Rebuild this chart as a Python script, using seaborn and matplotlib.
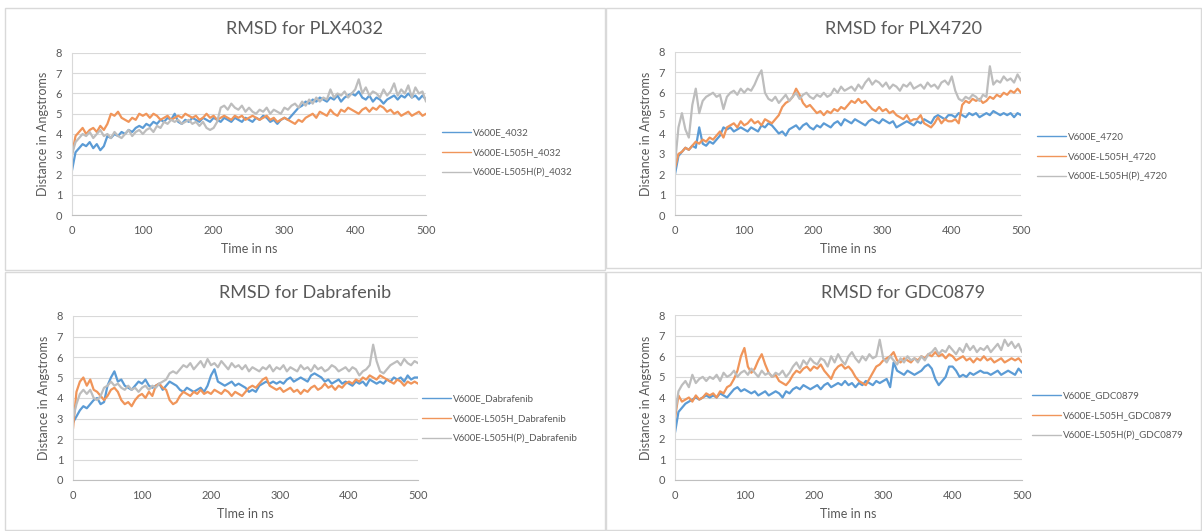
import numpy as np
import pandas as pd
import seaborn as sns
import matplotlib.pyplot as plt
from matplotlib.patches import Rectangle
from matplotlib.lines import Line2D

# RMSD traces (Angstrom), every 5 ns from 0 to 500 ns
plx4032_v600e = [
    2.2, 3.1, 3.3, 3.5, 3.4, 3.6, 3.3, 3.5, 3.2, 3.4,
    3.9, 3.8, 4.0, 3.9, 4.1, 4.0, 4.2, 4.1, 4.3, 4.4,
    4.3, 4.5, 4.4, 4.6, 4.5, 4.7, 4.6, 4.8, 4.7, 5.0,
    4.6, 4.5, 4.7, 4.6, 4.8, 4.7, 4.6, 4.8, 4.7, 4.6,
    4.8, 4.7, 4.6, 4.8, 4.7, 4.6, 4.8, 4.7, 4.6, 4.8,
    4.7, 4.6, 4.8, 4.7, 4.9, 4.8, 4.6, 4.7, 4.5, 4.7,
    4.8, 4.7, 4.9, 5.1, 5.3, 5.4, 5.6, 5.5, 5.7, 5.6,
    5.8, 5.7, 5.6, 5.8, 5.7, 5.9, 5.6, 5.8, 5.9, 6.0,
    5.9, 6.1, 5.8, 5.7, 5.9, 5.6, 5.8, 5.7, 5.5, 5.7,
    5.8, 5.9, 5.7, 5.9, 5.8, 6.0, 5.8, 5.9, 5.7, 5.9,
    5.7]
plx4032_l505h = [
    3.0, 3.9, 4.1, 4.3, 4.0, 4.2, 4.3, 4.1, 4.4, 4.2,
    4.5, 5.0, 4.9, 5.1, 4.8, 4.7, 4.6, 4.8, 4.7, 5.0,
    4.9, 5.0, 4.8, 5.0, 4.9, 4.7, 4.8, 4.9, 4.7, 4.8,
    4.9, 4.8, 5.0, 4.9, 4.8, 4.9, 4.7, 4.8, 5.0, 4.8,
    4.9, 4.7, 4.8, 4.9, 4.8, 4.7, 4.9, 4.8, 4.9, 4.7,
    4.8, 4.9, 4.8, 4.7, 4.8, 4.9, 4.7, 4.8, 4.6, 4.7,
    4.8, 4.7, 4.6, 4.5, 4.7, 4.6, 4.8, 4.9, 5.0, 4.8,
    5.1, 5.0, 4.9, 5.2, 5.0, 4.9, 5.2, 5.1, 5.3, 5.2,
    5.1, 5.0, 5.2, 5.3, 5.1, 5.3, 5.2, 5.4, 5.3, 5.1,
    5.2, 5.0, 5.1, 4.9, 5.0, 5.1, 4.9, 5.0, 5.1, 4.9,
    5.0]
plx4032_l505hp = [
    3.0, 3.6, 3.8, 4.0, 3.9, 4.1, 3.8, 4.0, 4.2, 3.9,
    4.0, 3.8, 4.1, 3.9, 3.8, 4.0, 4.2, 3.9, 4.1, 4.2,
    4.0, 4.2, 4.3, 4.1, 4.4, 4.3, 4.6, 4.5, 4.7, 4.6,
    4.7, 4.5, 4.6, 4.7, 4.5, 4.6, 4.4, 4.6, 4.3, 4.2,
    4.3, 4.6, 5.3, 5.4, 5.2, 5.5, 5.3, 5.2, 5.4, 5.1,
    5.3, 5.1, 5.0, 5.2, 5.1, 5.3, 5.0, 5.2, 5.1, 5.0,
    5.3, 5.2, 5.4, 5.5, 5.3, 5.6, 5.4, 5.7, 5.5, 5.8,
    5.6, 5.8, 5.7, 6.2, 5.8, 6.0, 5.9, 6.1, 5.8, 6.0,
    6.2, 6.7, 6.0, 6.3, 5.9, 6.1, 6.0, 5.8, 6.2, 5.9,
    6.1, 6.5, 5.9, 6.2, 6.0, 6.4, 5.8, 6.3, 6.0, 6.1,
    5.6]

plx4720_v600e = [
    2.0, 2.9, 3.1, 3.3, 3.2, 3.4, 3.3, 4.3, 3.5, 3.4,
    3.6, 3.5, 3.7, 3.9, 4.3, 4.2, 4.3, 4.1, 4.2, 4.3,
    4.2, 4.1, 4.3, 4.2, 4.1, 4.4, 4.3, 4.5, 4.4, 4.2,
    4.0, 4.1, 3.9, 4.2, 4.3, 4.4, 4.2, 4.4, 4.5, 4.3,
    4.2, 4.4, 4.3, 4.5, 4.4, 4.3, 4.5, 4.6, 4.4, 4.7,
    4.6, 4.5, 4.7, 4.6, 4.5, 4.4, 4.6, 4.7, 4.6, 4.5,
    4.7, 4.6, 4.5, 4.6, 4.3, 4.4, 4.5, 4.6, 4.5, 4.4,
    4.6, 4.5, 4.7, 4.6, 4.5, 4.8, 4.9, 4.8, 4.7, 4.9,
    4.9, 4.8, 5.0, 4.9, 4.8, 5.0, 4.9, 5.0, 4.8, 4.9,
    5.0, 4.9, 5.1, 5.0, 4.9, 5.0, 4.9, 5.0, 4.8, 5.0,
    4.9]
plx4720_l505h = [
    2.3, 3.0, 3.1, 3.3, 3.2, 3.4, 3.6, 3.5, 3.7, 3.6,
    3.8, 3.7, 3.9, 4.1, 3.8, 4.3, 4.4, 4.5, 4.3, 4.6,
    4.4, 4.5, 4.7, 4.5, 4.6, 4.4, 4.7, 4.6, 4.5, 4.7,
    4.9, 5.3, 5.5, 5.6, 5.8, 6.2, 5.9, 5.5, 5.3, 5.4,
    5.2, 5.0, 5.1, 4.9, 5.1, 5.0, 5.2, 5.1, 5.3, 5.2,
    5.4, 5.6, 5.5, 5.7, 5.5, 5.6, 5.4, 5.2, 5.1, 5.3,
    5.1, 5.2, 5.0, 5.1, 4.9, 4.8, 4.7, 4.9, 4.6, 4.7,
    4.7, 4.9, 4.5, 4.4, 4.3, 4.5, 4.8, 4.5, 4.7, 4.6,
    4.6, 4.7, 4.5, 5.4, 5.6, 5.5, 5.7, 5.6, 5.7, 5.5,
    5.6, 5.8, 5.7, 5.9, 5.8, 6.0, 5.9, 6.1, 6.0, 6.2,
    6.0]
plx4720_l505hp = [
    2.5, 4.3, 5.0, 4.2, 3.8, 5.4, 6.2, 5.0, 5.6, 5.8,
    5.9, 6.0, 5.8, 5.9, 5.2, 5.8, 6.0, 6.1, 5.9, 6.2,
    6.0, 6.2, 6.1, 6.4, 6.8, 7.1, 6.0, 5.7, 5.6, 5.8,
    5.5, 5.7, 5.9, 5.6, 5.8, 6.0, 5.7, 5.9, 6.0, 5.8,
    5.7, 5.9, 5.8, 6.0, 5.8, 5.9, 6.2, 6.0, 6.3, 6.1,
    6.2, 6.3, 6.1, 6.4, 6.2, 6.5, 6.7, 6.4, 6.6, 6.5,
    6.3, 6.5, 6.2, 6.4, 6.3, 6.1, 6.4, 6.3, 6.5, 6.2,
    6.3, 6.4, 6.2, 6.5, 6.3, 6.4, 6.2, 6.5, 6.6, 6.4,
    6.8, 6.1, 5.7, 5.6, 5.8, 5.7, 5.9, 5.8, 5.6, 5.9,
    5.8, 7.3, 6.4, 6.6, 6.5, 6.8, 6.6, 6.7, 6.5, 6.9,
    6.6]

dabrafenib_v600e = [
    2.8, 3.1, 3.4, 3.6, 3.5, 3.7, 3.9, 4.0, 3.7, 3.8,
    4.6, 5.0, 5.3, 4.8, 4.9, 4.6, 4.5, 4.4, 4.6, 4.8,
    4.7, 4.9, 4.6, 4.5, 4.6, 4.7, 4.4, 4.6, 4.8, 4.7,
    4.6, 4.4, 4.3, 4.5, 4.4, 4.3, 4.4, 4.5, 4.3, 4.6,
    5.1, 5.4, 4.8, 4.7, 4.6, 4.7, 4.8, 4.6, 4.7, 4.6,
    4.5, 4.3, 4.4, 4.3, 4.6, 4.7, 4.8, 4.7, 4.8, 4.7,
    4.8, 4.7, 4.9, 5.0, 4.8, 4.9, 5.0, 4.9, 4.8, 5.1,
    5.2, 5.1, 5.0, 4.8, 4.9, 4.7, 4.8, 4.9, 4.7, 4.8,
    4.7, 4.6, 4.8, 4.7, 4.8, 4.6, 4.9, 4.8, 4.7, 4.8,
    4.7, 4.9, 4.8, 5.0, 4.9, 5.0, 4.8, 5.1, 4.9, 5.0,
    5.0]
dabrafenib_l505h = [
    2.5, 4.3, 4.8, 5.0, 4.6, 4.9, 4.4, 4.3, 4.1, 3.9,
    4.1, 4.4, 4.5, 4.3, 3.9, 3.7, 3.8, 3.6, 3.9, 4.1,
    4.2, 4.0, 4.3, 4.1, 4.6, 4.7, 4.5, 4.4, 3.9, 3.7,
    3.8, 4.1, 4.3, 4.2, 4.1, 4.3, 4.2, 4.4, 4.2, 4.3,
    4.2, 4.4, 4.3, 4.2, 4.4, 4.3, 4.1, 4.3, 4.2, 4.1,
    4.3, 4.5, 4.6, 4.5, 4.7, 4.9, 5.0, 4.6, 4.5, 4.4,
    4.5, 4.3, 4.4, 4.5, 4.3, 4.4, 4.2, 4.4, 4.3, 4.5,
    4.6, 4.4, 4.5, 4.7, 4.5, 4.6, 4.4, 4.6, 4.5, 4.7,
    4.8, 4.7, 4.9, 4.8, 5.0, 4.9, 5.1, 5.0, 4.9, 5.1,
    5.0, 4.9, 4.8, 4.7, 4.9, 4.8, 4.6, 4.8, 4.7, 4.8,
    4.7]
dabrafenib_l505hp = [
    3.0, 3.7, 4.2, 4.4, 4.2, 4.4, 4.0, 3.9, 4.1, 4.5,
    4.6, 4.8, 4.6, 4.7, 4.5, 4.4, 4.6, 4.4, 4.5, 4.3,
    4.5, 4.6, 4.4, 4.6, 4.5, 4.7, 4.8, 4.9, 5.2, 5.3,
    5.2, 5.4, 5.6, 5.5, 5.7, 5.4, 5.6, 5.8, 5.5, 5.9,
    5.6, 5.7, 5.5, 5.8, 5.6, 5.4, 5.7, 5.5, 5.6, 5.4,
    5.6, 5.3, 5.5, 5.4, 5.3, 5.5, 5.4, 5.6, 5.3, 5.5,
    5.4, 5.6, 5.3, 5.5, 5.4, 5.3, 5.6, 5.4, 5.5, 5.3,
    5.6, 5.4, 5.5, 5.3, 5.4, 5.6, 5.5, 5.3, 5.4, 5.5,
    5.3, 5.5, 5.4, 5.1, 5.3, 5.4, 5.6, 6.6, 5.8, 5.3,
    5.2, 5.4, 5.6, 5.7, 5.8, 5.6, 5.9, 5.7, 5.6, 5.8,
    5.7]

gdc0879_v600e = [
    2.3, 3.3, 3.5, 3.7, 3.8, 3.9, 4.0, 3.9, 4.0, 4.1,
    4.0, 4.1, 4.0, 4.2, 4.1, 4.0, 4.2, 4.4, 4.5, 4.3,
    4.4, 4.3, 4.2, 4.3, 4.1, 4.2, 4.3, 4.1, 4.2, 4.3,
    4.2, 4.0, 4.3, 4.2, 4.4, 4.5, 4.4, 4.6, 4.5, 4.4,
    4.5, 4.6, 4.4, 4.6, 4.7, 4.5, 4.6, 4.7, 4.6, 4.8,
    4.6, 4.7, 4.5, 4.7, 4.6, 4.8, 4.7, 4.6, 4.8, 4.7,
    4.8, 4.9, 4.5, 5.7, 5.3, 5.2, 5.1, 5.3, 5.2, 5.1,
    5.2, 5.3, 5.5, 5.6, 5.4, 4.9, 4.6, 4.8, 5.0, 5.5,
    5.5, 5.3, 5.0, 5.1, 5.0, 5.2, 5.1, 5.2, 5.3, 5.2,
    5.2, 5.1, 5.2, 5.3, 5.1, 5.2, 5.3, 5.2, 5.1, 5.4,
    5.2]
gdc0879_l505h = [
    3.0, 4.1, 3.8, 3.9, 4.0, 3.8, 4.1, 3.9, 4.0, 4.2,
    4.1, 4.2, 4.0, 4.3, 4.2, 4.5, 4.6, 4.9, 5.3, 6.0,
    6.4, 5.5, 5.2, 5.4, 5.8, 6.1, 5.6, 5.2, 5.0, 5.1,
    4.8, 4.7, 4.6, 4.8, 5.1, 5.3, 5.2, 5.4, 5.5, 5.3,
    5.5, 5.4, 5.6, 5.3, 5.1, 4.9, 5.3, 5.5, 5.6, 5.4,
    5.5, 5.3, 5.0, 4.8, 4.7, 4.6, 4.9, 5.2, 5.5, 5.6,
    5.8, 5.9, 6.0, 6.2, 5.8, 5.7, 5.9, 5.8, 5.7, 5.9,
    5.8, 6.0, 5.9, 6.1, 6.0, 6.2, 6.0, 6.1, 5.9, 6.1,
    6.0, 5.8, 5.9, 6.0, 5.8, 5.9, 5.7, 5.9, 5.8, 6.0,
    5.8, 5.9, 5.7, 5.8, 5.9, 5.7, 5.8, 5.9, 5.8, 5.9,
    5.7]
gdc0879_l505hp = [
    3.2, 4.3, 4.6, 4.8, 4.5, 5.1, 4.7, 4.9, 5.0, 4.8,
    5.0, 4.9, 5.1, 4.8, 5.2, 5.0, 5.1, 5.3, 5.0, 5.2,
    5.3, 5.1, 5.4, 5.2, 5.0, 5.3, 5.1, 5.2, 5.0, 5.2,
    5.1, 5.3, 5.0, 5.2, 5.5, 5.7, 5.4, 5.8, 5.6, 5.9,
    5.7, 5.6, 5.9, 5.8, 5.5, 6.0, 5.7, 6.1, 5.8, 5.6,
    6.0, 6.2, 5.9, 5.7, 6.0, 5.8, 6.1, 5.9, 6.0, 6.8,
    5.9, 5.7, 6.0, 5.8, 5.6, 5.9, 5.7, 6.0, 5.8, 5.9,
    5.7, 6.0, 5.8, 6.1, 6.2, 6.4, 6.1, 6.3, 6.2, 6.5,
    6.3, 6.1, 6.4, 6.2, 6.6, 6.3, 6.5, 6.2, 6.4, 6.3,
    6.5, 6.2, 6.4, 6.6, 6.3, 6.8, 6.5, 6.7, 6.4, 6.6,
    6.2]

titles = ['RMSD for PLX4032', 'RMSD for PLX4720', 'RMSD for Dabrafenib', 'RMSD for GDC0879']
suffixes = ['4032', '4720', 'Dabrafenib', 'GDC0879']
xlabels = ['Time in ns', 'Time in ns', 'TIme in ns', 'Time in ns']
panel_data = [
    [plx4032_v600e, plx4032_l505h, plx4032_l505hp],
    [plx4720_v600e, plx4720_l505h, plx4720_l505hp],
    [dabrafenib_v600e, dabrafenib_l505h, dabrafenib_l505hp],
    [gdc0879_v600e, gdc0879_l505h, gdc0879_l505hp],
]
x_ticks = [0, 100, 200, 300, 400, 500]
y_ticks = [0, 1, 2, 3, 4, 5, 6, 7, 8]
colors = ['#5B9BD5', '#F0955A', '#BDBDBD']
text_color = '#595959'

sns.set_style('white')
plt.rcParams['font.family'] = ['Lato', 'DejaVu Sans']

W, H = 1202, 531
fig = plt.figure(figsize=(W / 100, H / 100), dpi=100)

# pixel boxes: panel frame and plot area (left, top, right, bottom)
frames = [(5, 8, 605, 270), (606, 8, 1201, 268), (5, 272, 605, 530), (606, 272, 1201, 530)]
areas = [(72, 53, 426, 215), (675, 52, 1021, 215), (73, 316, 418, 480), (675, 315, 1022, 480)]
legend_pos = [(1.045, 0.383), (1.046, 0.356), (1.012, 0.372), (1.029, 0.388)]

for i in range(4):
    fl, ft, fr, fb = frames[i]
    fig.patches.append(Rectangle((fl / W, 1 - fb / H), (fr - fl) / W, (fb - ft) / H,
                                 transform=fig.transFigure, fill=False,
                                 edgecolor='#D9D9D9', linewidth=1.0))
    al, at, ar, ab = areas[i]
    ax = fig.add_axes([al / W, 1 - ab / H, (ar - al) / W, (ab - at) / H])

    labels = [f'V600E_{suffixes[i]}', f'V600E-L505H_{suffixes[i]}', f'V600E-L505H(P)_{suffixes[i]}']
    frames_long = []
    for lab, vals in zip(labels, panel_data[i]):
        frames_long.append(pd.DataFrame({'time': np.linspace(0, 500, len(vals)),
                                         'rmsd': vals, 'series': lab}))
    df = pd.concat(frames_long, ignore_index=True)
    sns.lineplot(data=df, x='time', y='rmsd', hue='series', hue_order=labels,
                 palette=colors, linewidth=1.6, ax=ax, legend=False)

    ax.set_xlim(0, 500)
    ax.set_ylim(0, 8)
    ax.set_xticks(x_ticks)
    ax.set_yticks(y_ticks)
    ax.grid(axis='y', color='#D9D9D9', linewidth=0.8)
    ax.set_axisbelow(True)
    for side in ['top', 'right']:
        ax.spines[side].set_visible(False)
    ax.spines['left'].set_color('#D9D9D9')
    ax.spines['bottom'].set_color('#BFBFBF')
    ax.tick_params(length=0, labelsize=8, colors=text_color, pad=7)
    ax.set_xlabel(xlabels[i], fontsize=9, color=text_color, labelpad=5)
    ax.set_ylabel('Distance in Angstroms', fontsize=9, color=text_color, labelpad=5)

    fig.text((fl + fr) / 2 / W, 1 - (ft + 21) / H, titles[i], ha='center', va='center',
             fontsize=13, color=text_color)

    handles = [Line2D([0], [0], color=c, linewidth=1.0) for c in colors]
    ax.legend(handles, labels, loc='center left', bbox_to_anchor=legend_pos[i],
              frameon=False, fontsize=7, labelcolor=text_color, handlelength=3.0,
              labelspacing=1.1, handletextpad=0.2, borderaxespad=0, borderpad=0)

fig.savefig('out.png', dpi=100)
